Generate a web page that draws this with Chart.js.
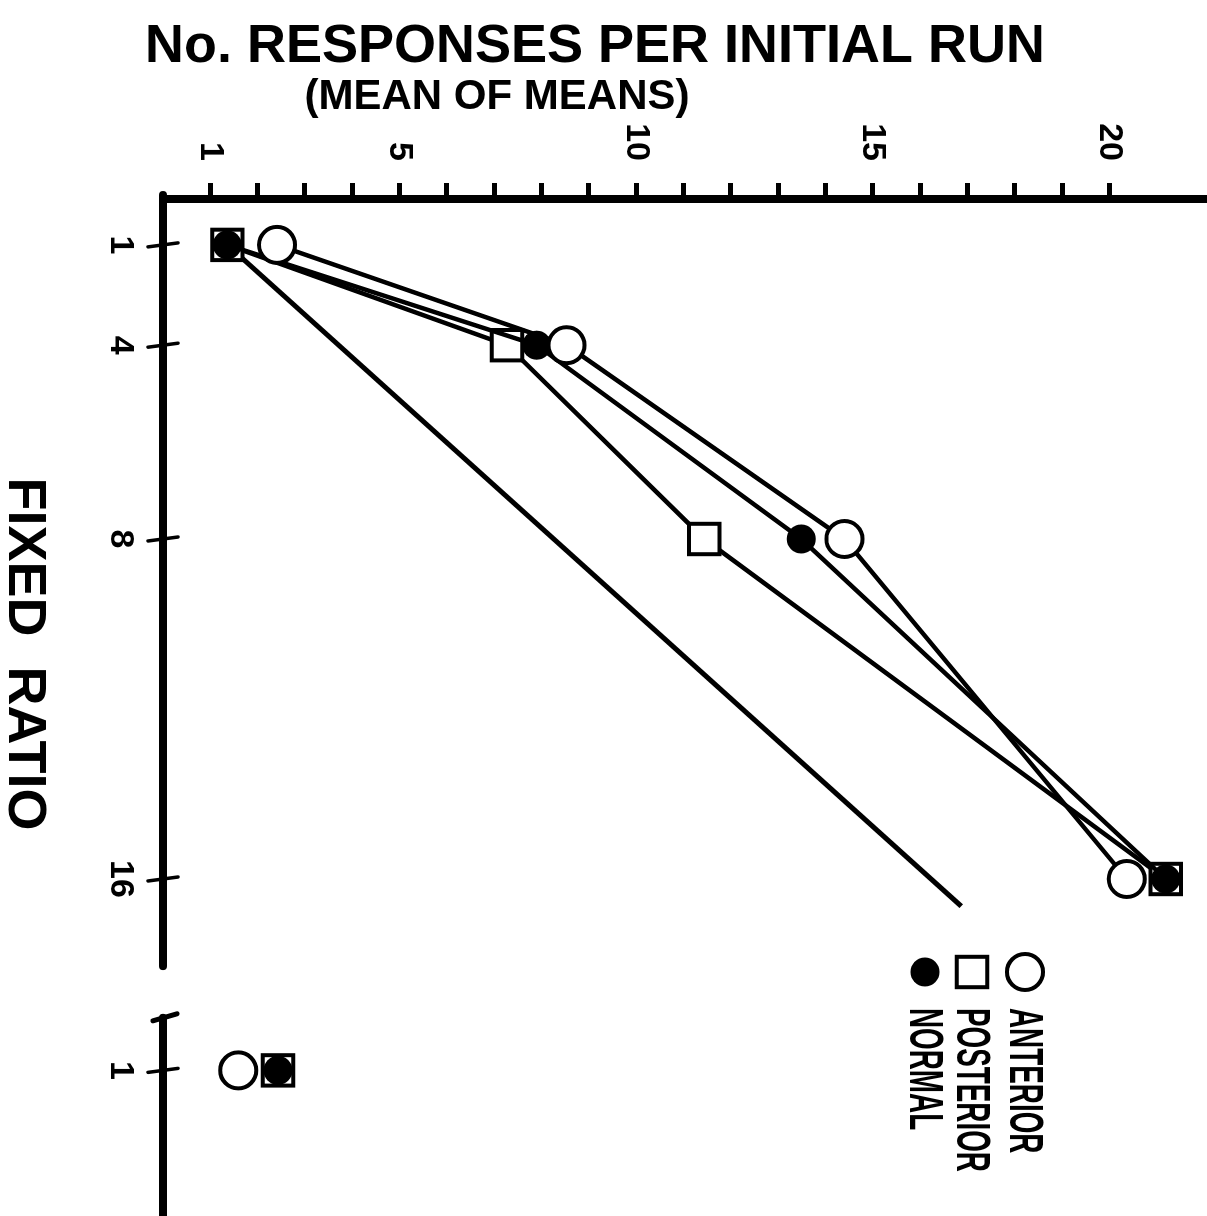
<!DOCTYPE html>
<html>
<head>
<meta charset="utf-8">
<script src="https://cdn.jsdelivr.net/npm/chart.js@4.4.1/dist/chart.umd.min.js"></script>
<style>
  html, body { margin: 0; padding: 0; background: #fff; overflow: hidden; width: 1207px; height: 1216px; }
  /* the figure is printed turned a quarter clockwise */
  #turn { position: absolute; left: 0; top: 0; width: 1216px; height: 1207px;
          transform-origin: 0 0; transform: translate(1207px, 0) rotate(90deg); }
</style>
</head>
<body>
<div id="turn"><canvas id="chart" width="1216" height="1207"></canvas></div>
<script>
// fixed ratio schedule and runs per group (mean of means)
const ratios = [1, 4, 8, 16];
const anteriorRuns = [2.41, 8.53, 14.4, 20.37];
const posteriorRuns = [1.36, 7.27, 11.44, 21.19];
const normalRuns = [1.36, 7.9, 13.49, 21.19];

// return to FR 1 after the break
const returnRatio = [1];
const anteriorReturn = [1.59];
const posteriorReturn = [2.43];
const normalReturn = [2.43];

// straight line drawn under the curves
const guideRatios = [1, 16.64];
const guideRuns = [1.36, 16.87];

const ratioTicks = [1, 4, 8, 16];
const returnTicks = [1];
const runTickMarks = [1, 2, 3, 4, 5, 6, 7, 8, 9, 10, 11, 12, 13, 14, 15, 16, 17, 18, 19, 20];
const runTickLabels = [1, 5, 10, 15, 20];

const groupNames = ["ANTERIOR", "POSTERIOR", "NORMAL"];

// the hand drawn ratio axis is not even: 4 sits closer to 1 than it should
const ratioKnots = [[0, 0], [1, 1.08], [4, 3.44], [8, 8], [16, 16], [40, 40]];
const warpRatio = (v) => {
  for (let i = 1; i < ratioKnots.length; i++) {
    const [a0, b0] = ratioKnots[i - 1];
    const [a1, b1] = ratioKnots[i];
    if (v <= a1 || i === ratioKnots.length - 1) {
      return b0 + ((v - a0) * (b1 - b0)) / (a1 - a0);
    }
  }
  return v;
};

class RatioScale extends Chart.LinearScale {
  getPixelForValue(value) {
    if (value === null || value === undefined) {
      return NaN;
    }
    return this.getPixelForDecimal((warpRatio(value) - this._startValue) / this._valueRange);
  }
}
RatioScale.id = "ratio";
RatioScale.defaults = {};
Chart.register(RatioScale);

const toPoints = (xs, ys) => xs.map((x, i) => ({ x, y: ys[i] }));

const FONT = "Liberation Sans";
const tickFont = { family: FONT, size: 34, weight: "bold" };

const anteriorStyle = {
  borderColor: "#000",
  borderWidth: 4.5,
  pointStyle: "circle",
  pointRadius: 18,
  pointBorderWidth: 4,
  pointBorderColor: "#000",
  pointBackgroundColor: "#fff",
  order: 1
};
const normalStyle = {
  borderColor: "#000",
  borderWidth: 4.5,
  pointStyle: "circle",
  pointRadius: 14.5,
  pointBorderWidth: 0,
  pointBackgroundColor: "#000",
  order: 2
};
const posteriorStyle = {
  borderColor: "#000",
  borderWidth: 4.5,
  pointStyle: "rect",
  pointRadius: 21.5,
  pointBorderWidth: 4,
  pointBorderColor: "#000",
  pointBackgroundColor: "#fff",
  order: 3
};

const fitBottom = (s) => {
  s.height = 163;
  s.paddingLeft = 0;
  s.paddingRight = 0;
};

const axisPlugin = {
  id: "axisLines",
  beforeDatasetsDraw(chart) {
    const { ctx, scales, chartArea } = chart;
    const yb = chartArea.bottom;
    const x = scales.x;
    const x2 = scales.x2;
    const seg = (x0, y0, x1, y1) => {
      ctx.beginPath();
      ctx.moveTo(x0, y0);
      ctx.lineTo(x1, y1);
      ctx.stroke();
    };
    ctx.save();
    ctx.strokeStyle = "#000";
    ctx.lineCap = "round";
    ctx.lineWidth = 8;
    seg(x.getPixelForValue(0) - 4, yb, x.getPixelForValue(18.05), yb);
    const breakStart = x2.getPixelForValue(0.35);
    seg(breakStart, yb, x2.right + 10, yb);
    ctx.lineWidth = 3.5;
    ratioTicks.forEach((v) => {
      const px = x.getPixelForValue(v);
      seg(px - 2, yb - 15, px + 2, yb + 15);
    });
    returnTicks.forEach((v) => {
      const px = x2.getPixelForValue(v);
      seg(px - 2, yb - 15, px + 2, yb + 15);
    });
    ctx.lineWidth = 5;
    seg(breakStart - 4, yb - 14, breakStart + 3, yb + 10);
    ctx.restore();
  }
};

const textPlugin = {
  id: "figureText",
  afterDraw(chart) {
    const { ctx } = chart;
    ctx.save();
    ctx.fillStyle = "#000";

    ctx.save();
    ctx.translate(62, 612);
    ctx.rotate(-Math.PI / 2);
    ctx.textAlign = "center";
    ctx.textBaseline = "alphabetic";
    ctx.font = `bold 54px "${FONT}"`;
    ctx.fillText("No. RESPONSES PER INITIAL RUN", 0, 0);
    ctx.restore();

    ctx.save();
    ctx.translate(109, 710);
    ctx.rotate(-Math.PI / 2);
    ctx.textAlign = "center";
    ctx.textBaseline = "alphabetic";
    ctx.font = `bold 42px "${FONT}"`;
    ctx.fillText("(MEAN OF MEANS)", 0, 0);
    ctx.restore();

    ctx.textAlign = "center";
    ctx.textBaseline = "alphabetic";
    ctx.font = `bold 54px "${FONT}"`;
    ctx.fillText("FIXED  RATIO", 654, 1198);

    // key
    const keyStyles = [anteriorStyle, posteriorStyle, normalStyle];
    const keyRows = [182, 235, 282];
    groupNames.forEach((name, i) => {
      const st = keyStyles[i];
      ctx.fillStyle = st.pointBackgroundColor;
      ctx.strokeStyle = "#000";
      ctx.lineWidth = st.pointBorderWidth;
      Chart.helpers.drawPoint(
        ctx,
        { pointStyle: st.pointStyle, radius: st.pointRadius, borderWidth: st.pointBorderWidth, rotation: 0 },
        972,
        keyRows[i]
      );
      ctx.save();
      ctx.fillStyle = "#000";
      ctx.translate(1008, keyRows[i]);
      ctx.scale(0.58, 1);
      ctx.textAlign = "left";
      ctx.textBaseline = "middle";
      ctx.font = `bold 48px "${FONT}"`;
      ctx.fillText(name, 0, 2);
      ctx.restore();
    });
    ctx.restore();
  }
};

new Chart(document.getElementById("chart"), {
  type: "line",
  data: {
    datasets: [
      { label: "ANTERIOR", data: toPoints(ratios, anteriorRuns), xAxisID: "x", ...anteriorStyle },
      { label: "NORMAL", data: toPoints(ratios, normalRuns), xAxisID: "x", ...normalStyle },
      { label: "POSTERIOR", data: toPoints(ratios, posteriorRuns), xAxisID: "x", ...posteriorStyle },
      { label: "ANTERIOR return", data: toPoints(returnRatio, anteriorReturn), xAxisID: "x2", showLine: false, ...anteriorStyle },
      { label: "NORMAL return", data: toPoints(returnRatio, normalReturn), xAxisID: "x2", showLine: false, ...normalStyle },
      { label: "POSTERIOR return", data: toPoints(returnRatio, posteriorReturn), xAxisID: "x2", showLine: false, ...posteriorStyle },
      {
        label: "guide",
        data: toPoints(guideRatios, guideRuns),
        xAxisID: "x",
        borderColor: "#000",
        borderWidth: 5,
        pointRadius: 0,
        order: 4
      }
    ]
  },
  options: {
    responsive: false,
    animation: false,
    devicePixelRatio: 1,
    events: [],
    layout: { autoPadding: false, padding: { top: 3, left: 0, right: 0, bottom: 0 } },
    plugins: {
      legend: { display: false },
      tooltip: { enabled: false }
    },
    elements: { line: { tension: 0 } },
    scales: {
      x: {
        type: "ratio",
        position: "bottom",
        stack: "fr",
        stackWeight: 790.5,
        min: 0,
        max: 18.6,
        afterBuildTicks: (s) => {
          s.ticks = ratioTicks.map((v) => ({ value: v }));
        },
        afterFit: fitBottom,
        grid: { display: false, drawTicks: false },
        border: { display: false },
        ticks: { autoSkip: false, maxRotation: 0, padding: 22, color: "#000", font: tickFont, callback: (v) => String(v) }
      },
      x2: {
        type: "linear",
        position: "bottom",
        stack: "fr",
        stackWeight: 226.5,
        min: 0,
        max: 2.8,
        afterBuildTicks: (s) => {
          s.ticks = returnTicks.map((v) => ({ value: v }));
        },
        afterFit: fitBottom,
        grid: { display: false, drawTicks: false },
        border: { display: false },
        ticks: { autoSkip: false, maxRotation: 0, padding: 22, color: "#000", font: tickFont, callback: (v) => String(v) }
      },
      y: {
        type: "linear",
        position: "left",
        min: 0,
        max: 22,
        afterBuildTicks: (s) => {
          s.ticks = runTickMarks.map((v) => ({ value: v }));
        },
        afterFit: (s) => {
          s.width = 199;
          s.paddingTop = 0;
          s.paddingBottom = 0;
        },
        grid: { drawOnChartArea: false, drawTicks: true, tickLength: 16, tickWidth: 5, tickColor: "#000" },
        border: { display: true, width: 8, color: "#000" },
        ticks: {
          autoSkip: false,
          padding: 22,
          color: "#000",
          font: tickFont,
          callback: (v) => (runTickLabels.includes(v) ? String(v) : "")
        }
      }
    }
  },
  plugins: [axisPlugin, textPlugin]
});
</script>
</body>
</html>
